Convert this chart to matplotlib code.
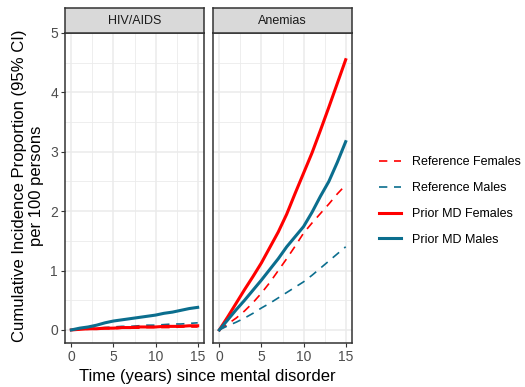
import matplotlib.pyplot as plt
from matplotlib.lines import Line2D

plt.rcParams['font.family'] = ['Liberation Sans', 'DejaVu Sans']

years = [0, 1, 2, 3, 4, 5, 6, 7, 8, 9, 10, 11, 12, 13, 14, 15]

# HIV/AIDS
hiv_ref_f = [0, 0.01, 0.01, 0.02, 0.02, 0.02, 0.03, 0.03, 0.03, 0.04, 0.04, 0.04, 0.04, 0.05, 0.05, 0.05]
hiv_ref_m = [0, 0.01, 0.02, 0.03, 0.04, 0.05, 0.06, 0.06, 0.07, 0.08, 0.08, 0.09, 0.10, 0.10, 0.11, 0.12]
hiv_pmd_f = [0, 0.01, 0.02, 0.02, 0.03, 0.03, 0.04, 0.04, 0.05, 0.05, 0.05, 0.06, 0.06, 0.06, 0.07, 0.07]
hiv_pmd_m = [0, 0.03, 0.05, 0.08, 0.12, 0.15, 0.17, 0.19, 0.21, 0.23, 0.25, 0.28, 0.30, 0.33, 0.36, 0.38]

# Anemias
ane_ref_f = [0, 0.10, 0.20, 0.32, 0.46, 0.62, 0.80, 1.00, 1.20, 1.41, 1.63, 1.80, 1.96, 2.12, 2.29, 2.44]
ane_ref_m = [0, 0.07, 0.13, 0.20, 0.28, 0.37, 0.45, 0.54, 0.63, 0.72, 0.81, 0.92, 1.04, 1.16, 1.28, 1.40]
ane_pmd_f = [0, 0.22, 0.45, 0.68, 0.90, 1.13, 1.39, 1.65, 1.95, 2.30, 2.64, 2.98, 3.36, 3.75, 4.15, 4.55]
ane_pmd_m = [0, 0.17, 0.34, 0.50, 0.67, 0.84, 1.02, 1.20, 1.40, 1.57, 1.74, 1.98, 2.25, 2.50, 2.82, 3.17]

panels = ['HIV/AIDS', 'Anemias']
series_labels = ['Reference Females', 'Reference Males', 'Prior MD Females', 'Prior MD Males']
data = {
    'HIV/AIDS': [hiv_ref_f, hiv_ref_m, hiv_pmd_f, hiv_pmd_m],
    'Anemias': [ane_ref_f, ane_ref_m, ane_pmd_f, ane_pmd_m],
}

RED = '#FF0000'
TEAL = '#0B6E8E'
colors = [RED, TEAL, RED, TEAL]
styles = [(0, (5, 4)), (0, (5, 4)), '-', '-']
widths = [1.2, 1.2, 2.2, 2.2]

W, H = 525, 387
fig = plt.figure(figsize=(W / 100, H / 100), dpi=100)

panel_x = [65, 213]
panel_w = 139
top, bottom = 33, 343
strip_h = 25

for i, name in enumerate(panels):
    x0 = panel_x[i]
    ax = fig.add_axes([x0 / W, 1 - bottom / H, panel_w / W, (bottom - top) / H])
    for y, c, ls, lw in zip(data[name], colors, styles, widths):
        ax.plot(years, y, color=c, linestyle=ls, linewidth=lw, zorder=3)
    ax.set_xlim(-0.75, 15.75)
    ax.set_ylim(-0.22, 5.0)
    ax.set_xticks([0, 5, 10, 15])
    ax.set_xticks([2.5, 7.5, 12.5], minor=True)
    ax.set_yticks([0, 1, 2, 3, 4, 5])
    ax.set_yticks([0.5, 1.5, 2.5, 3.5, 4.5], minor=True)
    ax.grid(which='major', color='#EBEBEB', linewidth=1.1, zorder=0)
    ax.grid(which='minor', color='#EBEBEB', linewidth=0.6, zorder=0)
    ax.set_axisbelow(True)
    ax.tick_params(which='major', length=3, width=0.8, color='#333333',
                   labelsize=10, labelcolor='#4D4D4D', pad=2)
    ax.tick_params(which='minor', length=0)
    if i > 0:
        ax.tick_params(axis='y', which='both', left=False, labelleft=False)
    for sp in ax.spines.values():
        sp.set_color('#333333')
        sp.set_linewidth(1.1)

    sax = fig.add_axes([x0 / W, 1 - top / H, panel_w / W, strip_h / H])
    sax.set_facecolor('#D9D9D9')
    sax.set_xticks([])
    sax.set_yticks([])
    for sp in sax.spines.values():
        sp.set_color('#333333')
        sp.set_linewidth(1.1)
    sax.text(0.5, 0.5, name, transform=sax.transAxes, ha='center', va='center',
             fontsize=9, color='#1A1A1A')

fig.text(207 / W, 1 - 376 / H, 'Time (years) since mental disorder',
         ha='center', va='center', fontsize=12, color='black')
fig.text(28 / W, 1 - 186 / H, 'Cumulative Incidence Proportion (95% CI)\nper 100 persons',
         ha='center', va='center', rotation=90, fontsize=12, color='black',
         linespacing=1.15)

handles = [Line2D([], [], color=c, linestyle=ls, linewidth=lw)
           for c, ls, lw in zip(colors, styles, widths)]
fig.legend(handles, series_labels, loc='center left',
           bbox_to_anchor=(368 / W, 1 - 201 / H), frameon=False,
           fontsize=9, handlelength=1.7, handletextpad=0.9, labelspacing=1.1)

fig.savefig('out.png', dpi=100)
